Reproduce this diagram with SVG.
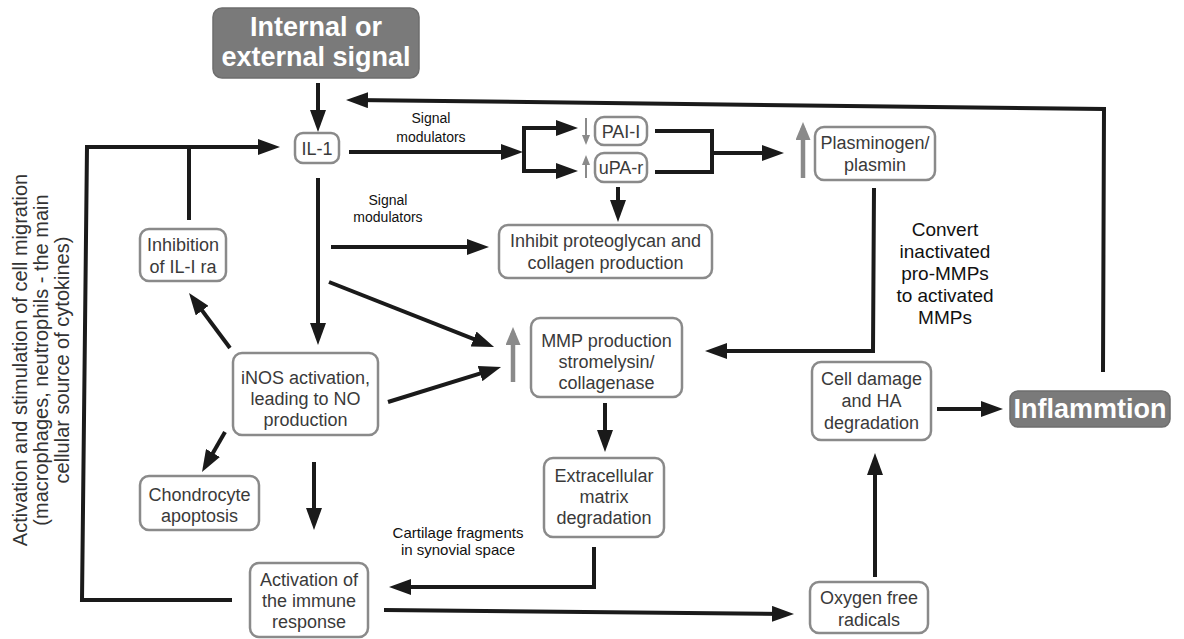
<svg xmlns="http://www.w3.org/2000/svg" width="1184" height="639" viewBox="0 0 1184 639">
<defs>
<style>
.box{fill:#fff;stroke:#8a8a8a;stroke-width:2.5}
.dark{fill:#7a7a7a;stroke:#6e6e6e;stroke-width:1.5}
.nt{font-family:"Liberation Sans",Arial,sans-serif;font-size:18px;fill:#3a3a3a;text-anchor:middle}
.bt{font-family:"Liberation Sans",Arial,sans-serif;font-size:27px;font-weight:bold;fill:#fff;text-anchor:middle}
.lb{font-family:"Liberation Sans",Arial,sans-serif;font-size:14px;fill:#111;text-anchor:middle}
.lb2{font-family:"Liberation Sans",Arial,sans-serif;font-size:15px;fill:#111;text-anchor:middle}
.cv{font-family:"Liberation Sans",Arial,sans-serif;font-size:19px;fill:#111;text-anchor:middle}
.rot{font-family:"Liberation Sans",Arial,sans-serif;font-size:20px;fill:#333;text-anchor:middle}
.c{fill:none;stroke:#1a1a1a;stroke-width:4;stroke-linejoin:miter}
.ca{fill:none;stroke:#1a1a1a;stroke-width:4;stroke-linejoin:miter;marker-end:url(#ah)}
.gs{fill:none;stroke:#8a8a8a;stroke-width:2;marker-end:url(#gsm)}
.gb{fill:none;stroke:#8a8a8a;stroke-width:4.5;marker-end:url(#gbm)}
</style>
<marker id="ah" markerUnits="userSpaceOnUse" markerWidth="22" markerHeight="16" refX="14" refY="8" orient="auto"><path d="M0,0 L22,8 L0,16 z" fill="#1a1a1a"/></marker>
<marker id="gsm" markerUnits="userSpaceOnUse" markerWidth="10" markerHeight="8" refX="6" refY="4" orient="auto"><path d="M0,0 L10,4 L0,8 z" fill="#8a8a8a"/></marker>
<marker id="gbm" markerUnits="userSpaceOnUse" markerWidth="18" markerHeight="15" refX="12" refY="7.5" orient="auto"><path d="M0,0 L18,7.5 L0,15 z" fill="#8a8a8a"/></marker>
</defs>
<rect width="1184" height="639" fill="#fff"/>

<g id="connectors">
<path class="ca" d="M318,83 L318,124"/>
<path class="ca" d="M1103,372 L1104,109 L354,100"/>
<path class="ca" d="M232,600 L82,600 L87,147 L272,147"/>
<path class="c" d="M189,220 L189,147"/>
<path class="ca" d="M349,152 L515,152"/>
<path class="c" d="M524,126 L524,173"/>
<path class="ca" d="M522,128 L570,128"/>
<path class="ca" d="M522,171 L570,171"/>
<path class="c" d="M655,131 L712,131 L712,172 L655,172"/>
<path class="ca" d="M712,153 L776,153"/>
<path class="ca" d="M618,187 L618,214"/>
<path class="ca" d="M331,247 L481,247"/>
<path class="ca" d="M318,178 L318,337"/>
<path class="ca" d="M329,282 L486.6,344.1"/>
<path class="ca" d="M388,402 L493.4,369.4"/>
<path class="ca" d="M874,188 L873,351 L713,351"/>
<path class="ca" d="M605,403 L605,444"/>
<path class="ca" d="M230,348 L193.8,299.4"/>
<path class="ca" d="M225,432 L206,465.1"/>
<path class="ca" d="M314,462 L314,522"/>
<path class="ca" d="M594,547 L594,587 L397,587"/>
<path class="ca" d="M384,610 L786,614"/>
<path class="ca" d="M875,577 L875,461"/>
<path class="ca" d="M937,409 L995,409"/>
<path class="gs" d="M586,118 L586,141"/>
<path class="gs" d="M586,178 L586,159"/>
<path class="gb" d="M803,178 L803,128"/>
<path class="gb" d="M513,382 L513,333"/>
</g>

<g id="signal">
<rect class="dark" x="213" y="8" width="206" height="70" rx="9"/>
<text class="bt"><tspan x="316" y="36">Internal or</tspan><tspan x="316" y="66">external signal</tspan></text>
</g>
<g id="il1">
<rect class="box" x="295" y="133" width="44" height="30" rx="8"/>
<text class="nt" x="317" y="155">IL-1</text>
</g>
<g id="pai">
<rect class="box" x="595" y="117" width="52" height="28" rx="9"/>
<text class="nt" x="621" y="138">PAI-I</text>
</g>
<g id="upa">
<rect class="box" x="595" y="153" width="52" height="29" rx="9"/>
<text class="nt" x="621" y="174">uPA-r</text>
</g>
<g id="plasmin">
<rect class="box" x="815" y="127" width="120" height="53" rx="9"/>
<text class="nt"><tspan x="875" y="149">Plasminogen/</tspan><tspan x="875" y="171">plasmin</tspan></text>
</g>
<g id="inhibit">
<rect class="box" x="499" y="225" width="213" height="53" rx="9"/>
<text class="nt"><tspan x="605.5" y="247">Inhibit proteoglycan and</tspan><tspan x="605.5" y="269">collagen production</tspan></text>
</g>
<g id="il1ra">
<rect class="box" x="140" y="229" width="86" height="52" rx="9"/>
<text class="nt"><tspan x="183" y="251">Inhibition</tspan><tspan x="183" y="273">of IL-I ra</tspan></text>
</g>
<g id="mmp">
<rect class="box" x="531" y="318" width="151" height="79" rx="9"/>
<text class="nt"><tspan x="606.5" y="347">MMP production</tspan><tspan x="606.5" y="368">stromelysin/</tspan><tspan x="606.5" y="389">collagenase</tspan></text>
</g>
<g id="inos">
<rect class="box" x="233" y="353" width="145" height="82" rx="9"/>
<text class="nt"><tspan x="305.5" y="384">iNOS activation,</tspan><tspan x="305.5" y="405">leading to NO</tspan><tspan x="305.5" y="426">production</tspan></text>
</g>
<g id="chondro">
<rect class="box" x="140" y="476" width="119" height="54" rx="9"/>
<text class="nt"><tspan x="199.5" y="501">Chondrocyte</tspan><tspan x="199.5" y="522">apoptosis</tspan></text>
</g>
<g id="ecm">
<rect class="box" x="544" y="458" width="120" height="79" rx="9"/>
<text class="nt"><tspan x="604" y="482">Extracellular</tspan><tspan x="604" y="503">matrix</tspan><tspan x="604" y="524">degradation</tspan></text>
</g>
<g id="immune">
<rect class="box" x="250" y="563" width="118" height="74" rx="9"/>
<text class="nt"><tspan x="309" y="586">Activation of</tspan><tspan x="309" y="607">the immune</tspan><tspan x="309" y="628">response</tspan></text>
</g>
<g id="celldamage">
<rect class="box" x="812" y="362" width="119" height="78" rx="9"/>
<text class="nt"><tspan x="871.5" y="385">Cell damage</tspan><tspan x="871.5" y="407">and HA</tspan><tspan x="871.5" y="429">degradation</tspan></text>
</g>
<g id="oxygen">
<rect class="box" x="810" y="582" width="118" height="51" rx="9"/>
<text class="nt"><tspan x="869" y="604">Oxygen free</tspan><tspan x="869" y="626">radicals</tspan></text>
</g>
<g id="inflammation">
<rect class="dark" x="1010" y="391" width="160" height="36" rx="8"/>
<text class="bt" x="1090" y="418">Inflammtion</text>
</g>

<g id="labels">
<text class="lb"><tspan x="431" y="123">Signal</tspan><tspan x="431" y="142">modulators</tspan></text>
<text class="lb"><tspan x="388" y="205">Signal</tspan><tspan x="388" y="222">modulators</tspan></text>
<text class="lb2"><tspan x="458" y="538">Cartilage fragments</tspan><tspan x="458" y="555">in synovial space</tspan></text>
<text class="cv"><tspan x="945" y="236">Convert</tspan><tspan x="945" y="258">inactivated</tspan><tspan x="945" y="280">pro-MMPs</tspan><tspan x="945" y="302">to activated</tspan><tspan x="945" y="324">MMPs</tspan></text>
<text class="rot" transform="translate(27,360) rotate(-90)">Activation and stimulation of cell migration</text>
<text class="rot" transform="translate(48,360) rotate(-90)">(macrophages, neutrophils - the main</text>
<text class="rot" transform="translate(69,360) rotate(-90)">cellular source of cytokines)</text>
</g>
</svg>
